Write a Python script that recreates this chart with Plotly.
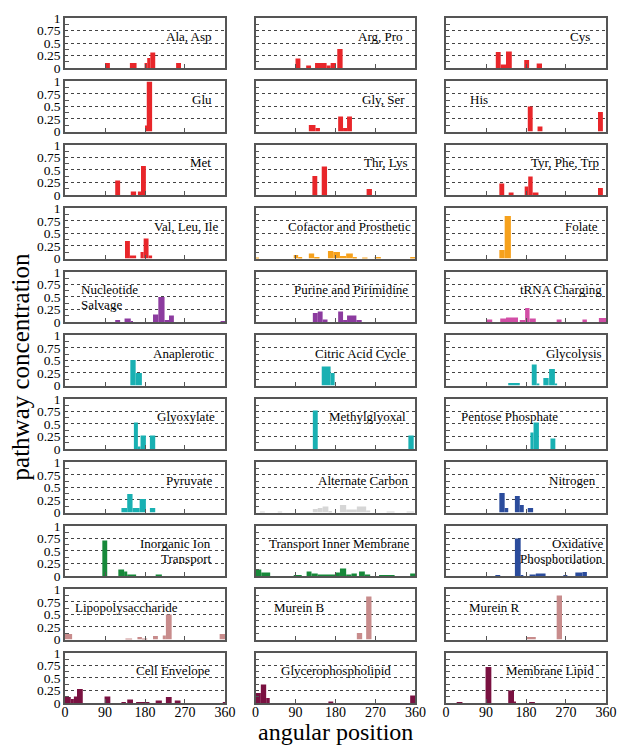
import plotly.graph_objects as go
from plotly.subplots import make_subplots

ANGLE_TICKS = [0, 90, 180, 270, 360]
CONC_TICKS = [0, 0.25, 0.5, 0.75, 1]
CONC_TICK_TEXT = ["0", "0.25", "0.5", "0.75", "1"]
CONC_MINOR = [0.125, 0.375, 0.625, 0.875]

# each bar: (start angle, end angle, pathway concentration)
ala_asp = [(90, 101, 0.10), (146, 161, 0.10), (179, 185, 0.10), (185, 192, 0.20), (192, 203, 0.31), (250, 261, 0.10)]
arg_pro = [(90, 101, 0.19), (114, 125, 0.05), (134, 160, 0.10), (160, 169, 0.05), (169, 181, 0.10), (184, 196, 0.38)]
cys = [(112, 123, 0.32), (123, 135, 0.07), (135, 148, 0.33), (176, 187, 0.16), (204, 216, 0.09)]
glu = [(180, 184, 0.12), (184, 196, 1.0)]
gly_ser = [(120, 135, 0.13), (135, 145, 0.07), (186, 197, 0.30), (197, 206, 0.07), (206, 217, 0.30)]
his = [(184, 195, 0.50), (206, 217, 0.10), (342, 353, 0.39)]
met = [(113, 124, 0.29), (148, 160, 0.07), (164, 171, 0.07), (171, 182, 0.58)]
thr_lys = [(128, 139, 0.38), (149, 161, 0.57), (250, 262, 0.12)]
tyr_phe_trp = [(120, 131, 0.23), (141, 152, 0.05), (177, 185, 0.17), (185, 195, 0.37), (195, 208, 0.05), (342, 353, 0.14)]
val_leu_ile = [(135, 146, 0.35), (146, 160, 0.06), (170, 177, 0.13), (177, 188, 0.40), (188, 196, 0.06)]
cofactor = [(0, 8, 0.01), (86, 96, 0.07), (96, 105, 0.03), (120, 132, 0.10), (132, 144, 0.03), (163, 175, 0.15),
            (175, 190, 0.13), (190, 204, 0.05), (204, 219, 0.10), (219, 228, 0.03), (240, 252, 0.01),
            (268, 282, 0.03), (348, 360, 0.03)]
folate = [(120, 132, 0.17), (132, 146, 0.85)]
nucleotide = [(113, 124, 0.03), (134, 148, 0.07), (148, 153, 0.02), (198, 210, 0.15), (210, 224, 0.50),
              (224, 234, 0.03), (234, 245, 0.13), (350, 360, 0.01)]
purine = [(129, 140, 0.18), (140, 151, 0.21), (151, 162, 0.05), (186, 197, 0.21), (197, 206, 0.03),
          (206, 227, 0.13), (227, 239, 0.04)]
trna = [(92, 104, 0.05), (122, 135, 0.07), (135, 162, 0.09), (166, 178, 0.03), (178, 188, 0.28), (188, 202, 0.07),
        (249, 260, 0.05), (307, 317, 0.05), (344, 360, 0.08)]
anaplerotic = [(147, 159, 0.51), (159, 173, 0.25)]
citric = [(149, 169, 0.38), (169, 178, 0.25)]
glycolysis = [(140, 166, 0.05), (193, 204, 0.42), (204, 210, 0.04), (219, 231, 0.15), (232, 245, 0.33), (245, 250, 0.03)]
glyoxylate = [(155, 164, 0.53), (164, 170, 0.05), (170, 182, 0.27), (191, 203, 0.27)]
methylglyoxal = [(129, 140, 0.77), (344, 356, 0.27)]
pentose = [(190, 197, 0.33), (197, 209, 0.53), (235, 246, 0.21)]
pyruvate = [(127, 140, 0.09), (140, 152, 0.37), (152, 168, 0.09), (168, 182, 0.27), (191, 203, 0.09)]
alternate = [(10, 21, 0.02), (50, 60, 0.02), (129, 140, 0.07), (140, 151, 0.09), (151, 164, 0.12), (164, 172, 0.03),
             (190, 204, 0.15), (204, 228, 0.06), (228, 249, 0.12), (249, 258, 0.04), (295, 313, 0.02), (340, 357, 0.02)]
nitrogen = [(120, 132, 0.39), (132, 140, 0.09), (155, 166, 0.33), (166, 175, 0.15), (184, 196, 0.09)]
inorganic = [(84, 95, 0.71), (120, 133, 0.13), (133, 140, 0.09), (140, 160, 0.03), (204, 218, 0.03)]
transport = [(0, 13, 0.13), (13, 33, 0.07), (86, 104, 0.02), (115, 126, 0.09), (126, 140, 0.05), (140, 180, 0.03),
             (180, 190, 0.07), (190, 204, 0.15), (204, 216, 0.03), (216, 228, 0.05), (233, 246, 0.09),
             (246, 258, 0.03), (278, 313, 0.01), (348, 360, 0.05)]
oxidative = [(111, 122, 0.02), (155, 168, 0.75), (168, 174, 0.02), (188, 202, 0.03), (202, 224, 0.05),
             (264, 273, 0.02), (291, 307, 0.07), (307, 317, 0.08)]
lipopoly = [(0, 16, 0.11), (136, 151, 0.01), (163, 173, 0.05), (173, 185, 0.01), (198, 209, 0.07), (220, 227, 0.08),
            (227, 240, 0.50), (348, 360, 0.11)]
murein_b = [(228, 240, 0.13), (249, 261, 0.86)]
murein_r = [(180, 202, 0.05), (249, 261, 0.88)]
cell_env = [(0, 13, 0.12), (13, 20, 0.08), (20, 27, 0.13), (27, 40, 0.28), (89, 102, 0.13), (127, 137, 0.01),
            (140, 153, 0.07), (160, 190, 0.01), (204, 218, 0.05), (227, 240, 0.12), (247, 260, 0.05), (355, 360, 0.01)]
glycero = [(0, 12, 0.20), (12, 24, 0.37), (24, 32, 0.10), (164, 175, 0.03), (348, 360, 0.15)]
membrane = [(24, 37, 0.02), (89, 102, 0.72), (140, 153, 0.25), (153, 157, 0.03), (187, 200, 0.02)]

RED = "#e8262a"
ORANGE = "#f6a11c"
PURPLE = "#8c3b9f"
PINK = "#d24ea6"
TEAL = "#19b0b2"
GREY = "#d6d6d6"
BLUE = "#2b4c9c"
GREEN = "#17893a"
ROSE = "#c88c8c"
MAROON = "#7a1141"

# (label lines, data, colour, alignment, x position in panel domain)
panels = [
    (["Ala, Asp"], ala_asp, RED, "right", 0.93),
    (["Arg, Pro"], arg_pro, RED, "right", 0.935),
    (["Cys"], cys, RED, "right", 0.91),
    (["Glu"], glu, RED, "right", 0.93),
    (["Gly, Ser"], gly_ser, RED, "right", 0.947),
    (["His"], his, RED, "left", 0.14),
    (["Met"], met, RED, "right", 0.925),
    (["Thr, Lys"], thr_lys, RED, "right", 0.965),
    (["Tyr, Phe, Trp"], tyr_phe_trp, RED, "right", 0.97),
    (["Val, Leu, Ile"], val_leu_ile, RED, "right", 0.97),
    (["Cofactor and Prosthetic"], cofactor, ORANGE, "right", 0.985),
    (["Folate"], folate, ORANGE, "right", 0.96),
    (["Nucleotide", "Salvage"], nucleotide, PURPLE, "left", 0.085),
    (["Purine and Pirimidine"], purine, PURPLE, "right", 0.965),
    (["tRNA Charging"], trna, PINK, "right", 0.985),
    (["Anaplerotic"], anaplerotic, TEAL, "right", 0.95),
    (["Citric Acid Cycle"], citric, TEAL, "right", 0.955),
    (["Glycolysis"], glycolysis, TEAL, "right", 0.985),
    (["Glyoxylate"], glyoxylate, TEAL, "right", 0.95),
    (["Methylglyoxal"], methylglyoxal, TEAL, "right", 0.955),
    (["Pentose Phosphate"], pentose, TEAL, "left", 0.08),
    (["Pyruvate"], pyruvate, TEAL, "right", 0.93),
    (["Alternate Carbon"], alternate, GREY, "right", 0.965),
    (["Nitrogen"], nitrogen, BLUE, "right", 0.95),
    (["Inorganic Ion", "Transport"], inorganic, GREEN, "right", 0.925),
    (["Transport Inner Membrane"], transport, GREEN, "right", 0.98),
    (["Oxidative", "Phosphorilation"], oxidative, BLUE, "right", 0.995),
    (["Lipopolysaccharide"], lipopoly, ROSE, "left", 0.05),
    (["Murein B"], murein_b, ROSE, "left", 0.105),
    (["Murein R"], murein_r, ROSE, "left", 0.13),
    (["Cell Envelope"], cell_env, MAROON, "right", 0.92),
    (["Glycerophospholipid"], glycero, MAROON, "center", 0.505),
    (["Membrane Lipid"], membrane, MAROON, "right", 0.935),
]

NROWS, NCOLS = 11, 3
FONT = "Liberation Serif"
FRAME = "#555555"

fig = make_subplots(rows=NROWS, cols=NCOLS, horizontal_spacing=0.0564, vertical_spacing=0.0197)

for i, (lines, data, color, align, xpos) in enumerate(panels):
    r, c = i // NCOLS + 1, i % NCOLS + 1
    centers = [(s + e) / 2 for s, e, v in data]
    widths = [e - s for s, e, v in data]
    vals = [v for s, e, v in data]
    fig.add_trace(go.Bar(x=centers, y=vals, width=widths, marker=dict(color=color, line=dict(width=0)),
                         showlegend=False, hoverinfo="skip"), row=r, col=c)
    k = i + 1
    xref = "x domain" if k == 1 else f"x{k} domain"
    yref = "y" if k == 1 else f"y{k}"
    ys = [0.64] if len(lines) == 1 else [0.64, 0.35]
    for txt, yy in zip(lines, ys):
        fig.add_annotation(text=txt, xref=xref, yref=yref, x=xpos, y=yy, xanchor=align, yanchor="middle",
                           showarrow=False, align=align, font=dict(family=FONT, size=13, color="black"))

fig.update_xaxes(range=[0, 360], tickvals=ANGLE_TICKS, ticks="inside", ticklen=4, tickwidth=1, tickcolor=FRAME,
                 showline=True, linecolor=FRAME, linewidth=1.5, mirror=True, showgrid=False, zeroline=False,
                 showticklabels=False, automargin=False, ticklabelstandoff=-5,
                 tickfont=dict(family=FONT, size=14, color="black"))
fig.update_yaxes(range=[0, 1], tickvals=CONC_TICKS, ticktext=CONC_TICK_TEXT, ticks="", showline=True,
                 linecolor=FRAME, linewidth=1.5, mirror=True, showgrid=True, gridcolor="#444444", griddash="dot",
                 gridwidth=1, zeroline=False, showticklabels=False, automargin=False,
                 tickfont=dict(family=FONT, size=13.5, color="black"),
                 minor=dict(tickmode="array", tickvals=CONC_MINOR, ticks="inside", ticklen=4, tickwidth=1,
                            tickcolor=FRAME, showgrid=False))
for r in range(1, NROWS + 1):
    fig.update_yaxes(showticklabels=True, row=r, col=1)
for c in range(1, NCOLS + 1):
    fig.update_xaxes(showticklabels=True, row=NROWS, col=c)

fig.add_annotation(text="angular position", xref="paper", yref="paper", x=0.5, y=-0.042, xanchor="center",
                   yanchor="middle", showarrow=False, font=dict(family=FONT, size=24, color="black"))
fig.add_annotation(text="pathway concentration", xref="paper", yref="paper", x=-0.083, y=0.49, xanchor="center",
                   yanchor="middle", textangle=-90, showarrow=False, font=dict(family=FONT, size=25, color="black"))

fig.update_layout(width=618, height=745, margin=dict(l=65, r=12, t=18, b=42, autoexpand=False), barmode="overlay",
                  plot_bgcolor="white", paper_bgcolor="white", font=dict(family=FONT, color="black"))

fig.write_html("out.html", config={"displayModeBar": False},
               post_script="document.body.style.margin='0px';document.body.style.overflow='hidden';")
